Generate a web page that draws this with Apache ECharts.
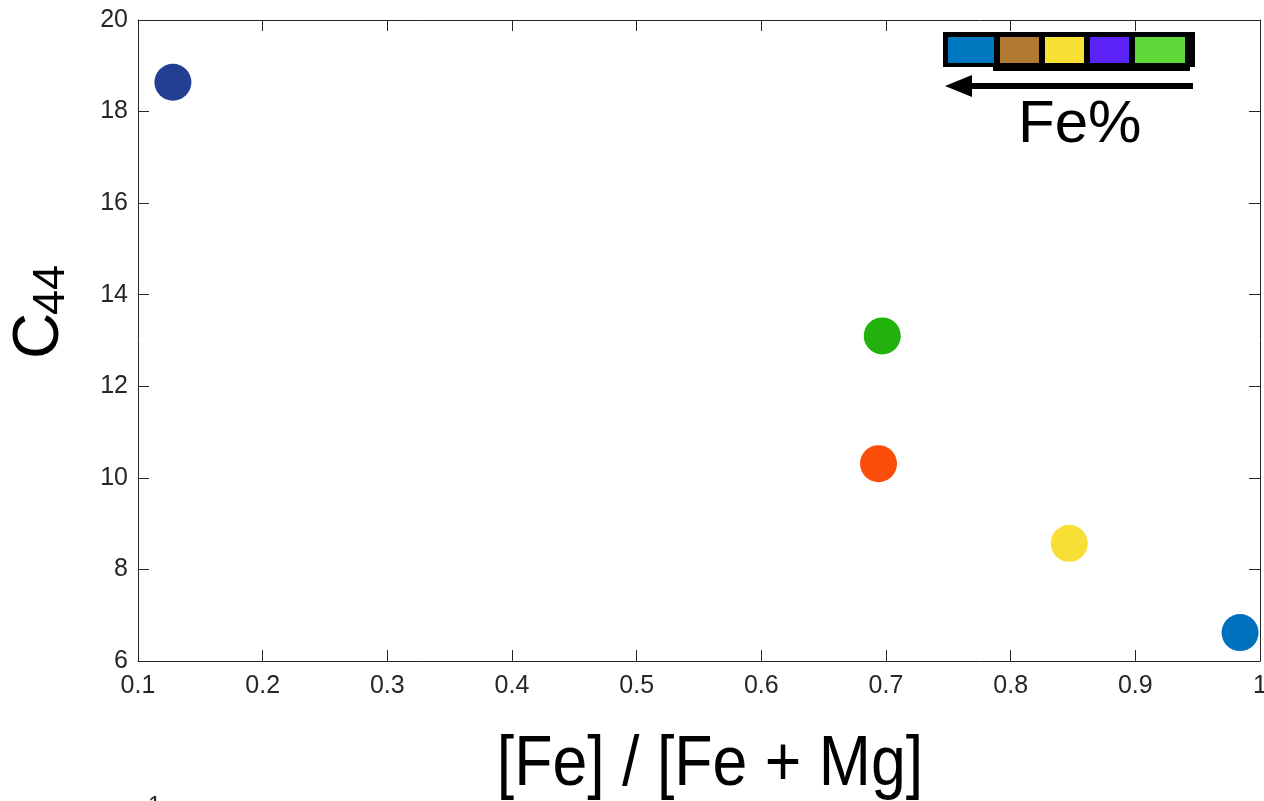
<!DOCTYPE html>
<html>
<head>
<meta charset="utf-8">
<style>
  html, body { margin: 0; padding: 0; background: #fff; }
  #main { width: 1264px; height: 801px; }
</style>
</head>
<body>
<div id="main"></div>
<script src="https://cdn.jsdelivr.net/npm/echarts@6/dist/echarts.min.js"></script>
<script>
  // values
  const feRatio = [0.128, 0.697, 0.694, 0.847, 0.984];
  const c44 = [18.64, 13.1, 10.31, 8.57, 6.62];
  const pointColors = ['#233F93', '#21B20C', '#FB4E0B', '#F8DF35', '#0072BD'];

  const xTicks = { min: 0.1, max: 1, interval: 0.1 };
  const yTicks = { min: 6, max: 20, interval: 2 };

  // the little colour key in the corner
  const keyColors = ['#0077BF', '#B07A32', '#F8E034', '#5B22F7', '#60D83A'];
  const keyEdges = [948, 999, 1044, 1089, 1134, 1190];

  var chartDom = document.getElementById('main');
  var myChart = echarts.init(chartDom);
  var option;

  const ink = '#262626';
  const font = 'Liberation Sans, Arial, Helvetica, sans-serif';

  const axisCommon = {
    axisLine: { show: true, lineStyle: { color: ink, width: 1 } },
    axisTick: { show: true, inside: true, length: 11, lineStyle: { color: ink, width: 1 } },
    splitLine: { show: false },
  };

  const keyItems = [
    { type: 'rect', shape: { x: 993, y: 40, width: 197, height: 31 }, style: { fill: '#000' } },
    { type: 'rect', shape: { x: 943, y: 32, width: 252, height: 35 }, style: { fill: '#000' } },
  ];
  keyColors.forEach((c, i) => {
    keyItems.push({
      type: 'rect',
      shape: { x: keyEdges[i] + (i ? 1 : 0), y: 37, width: keyEdges[i + 1] - keyEdges[i] - (i ? 6 : 5), height: 26 },
      style: { fill: c },
    });
  });

  option = {
    backgroundColor: '#fff',
    animation: false,
    grid: { left: 138, right: 4, top: 20, bottom: 140, containLabel: false, outerBoundsMode: 'none' },
    xAxis: [
      Object.assign({
        type: 'value', position: 'bottom',
        min: xTicks.min, max: xTicks.max, interval: xTicks.interval,
        axisLabel: {
          color: ink, fontSize: 25, fontFamily: font, margin: 13,
          formatter: (v) => (Math.abs(v - 1) < 1e-9 ? '1' : v.toFixed(1)),
        },
      }, axisCommon),
      Object.assign({
        type: 'value', position: 'top',
        min: xTicks.min, max: xTicks.max, interval: xTicks.interval,
        axisLabel: { show: false },
      }, axisCommon),
    ],
    yAxis: [
      Object.assign({
        type: 'value', position: 'left',
        min: yTicks.min, max: yTicks.max, interval: yTicks.interval,
        axisLabel: { color: ink, fontSize: 25, fontFamily: font, margin: 10 },
      }, axisCommon),
      Object.assign({
        type: 'value', position: 'right',
        min: yTicks.min, max: yTicks.max, interval: yTicks.interval,
        axisLabel: { show: false },
      }, axisCommon),
    ],
    series: [
      {
        type: 'scatter',
        symbol: 'circle',
        symbolSize: 37,
        data: feRatio.map((x, i) => ({
          value: [x, c44[i]],
          itemStyle: { color: pointColors[i], opacity: 1 },
        })),
      },
    ],
    graphic: keyItems.concat([
      // arrow under the key
      { type: 'rect', shape: { x: 968, y: 83, width: 225, height: 6 }, style: { fill: '#000' } },
      {
        type: 'polygon',
        shape: { points: [[945, 86], [972, 75], [972, 97]] },
        style: { fill: '#000' },
      },
      {
        type: 'text', x: 1018, y: 125,
        style: { text: 'Fe%', fill: '#000', font: '60px ' + font, textAlign: 'left', textVerticalAlign: 'middle' },
      },
      // axis titles
      {
        type: 'text', x: 710, y: 766, scaleX: 0.895,
        style: { text: '[Fe] / [Fe + Mg]', fill: '#000', font: '70px ' + font, textAlign: 'center', textVerticalAlign: 'middle' },
      },
      {
        type: 'text', x: 40, y: 336, rotation: Math.PI / 2,
        style: { text: 'C', fill: '#000', font: '64px ' + font, textAlign: 'center', textVerticalAlign: 'middle' },
      },
      {
        type: 'text', x: 52, y: 290, rotation: Math.PI / 2,
        style: { text: '44', fill: '#000', font: '45px ' + font, textAlign: 'center', textVerticalAlign: 'middle' },
      },
      {
        type: 'text', x: 148, y: 794,
        style: { text: '1', fill: ink, font: '24px ' + font, textAlign: 'left', textVerticalAlign: 'top' },
      },
    ]),
  };

  option && myChart.setOption(option);

  window.onresize = function () {
    myChart.resize();
  };
</script>
</body>
</html>
